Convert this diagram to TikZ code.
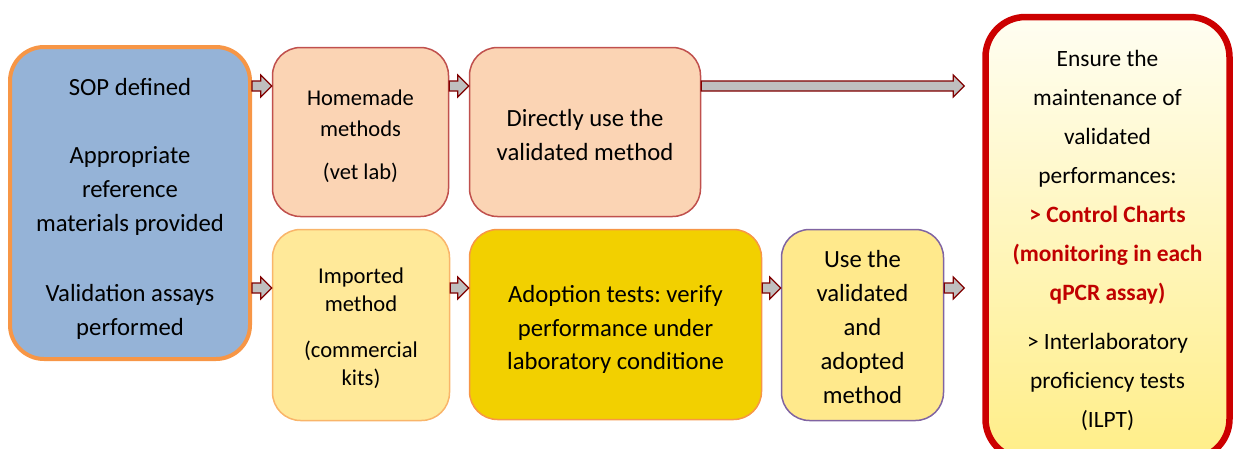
\documentclass[tikz,border=0pt]{standalone}
\usepackage{fontspec}
\setmainfont{Carlito}
\frenchspacing
\usetikzlibrary{calc}
\definecolor{sopfill}{HTML}{95B3D7}
\definecolor{soporange}{HTML}{F79646}
\definecolor{peach}{HTML}{FBD4B4}
\definecolor{peachline}{HTML}{C0504D}
\definecolor{lightyel}{HTML}{FFE999}
\definecolor{lightyelline}{HTML}{F9B56A}
\definecolor{gold}{HTML}{F2D000}
\definecolor{useyel}{HTML}{FFE98C}
\definecolor{purpleline}{HTML}{8064A2}
\definecolor{redline}{HTML}{CC0000}
\definecolor{redtext}{HTML}{C00000}
\definecolor{arrfill}{HTML}{BFBFBF}
\definecolor{arrline}{HTML}{800000}
\definecolor{gradtop}{HTML}{FFFEF2}
\definecolor{gradbot}{HTML}{FFEE88}
\newcommand{\blockarr}[2]{%
  \draw[arrowst] let \p1=(#1), \p2=(#2) in
    (\x1,\y1+5pt) -- (\x2-11pt,\y1+5pt) -- (\x2-11pt,\y1+11pt) -- (\x2,\y1)
    -- (\x2-11pt,\y1-11pt) -- (\x2-11pt,\y1-5pt) -- (\x1,\y1-5pt) -- cycle;}
\begin{document}
\begin{tikzpicture}[x=1pt,y=-1pt,
  box/.style={draw, rounded corners=28pt, inner sep=0pt, anchor=center},
  txt/.style={inner sep=0pt, align=center, anchor=center},
  arrowst/.style={draw=arrline, fill=arrfill, line width=1.2pt, line join=miter}]
\useasboundingbox (0,0) rectangle (1235,448);
\clip (0,0) rectangle (1235,448);
\coordinate (r1) at (0,86);
\coordinate (r2) at (0,288);
% boxes
\node[box, fill=sopfill, draw=soporange, line width=4pt, rounded corners=34pt,
  minimum width=240pt, minimum height=312pt] (sop) at (130,203) {};
\node[txt, font=\fontsize{24.7}{34}\selectfont] (sopt) at ($(sop.center)+(0,6)$)
  {SOP defined\\[34pt]Appropriate\\reference\\materials provided\\[36pt]Validation assays\\performed};
\node[box, fill=peach, draw=peachline, line width=1.5pt,
  minimum width=176pt, minimum height=169pt] (home) at (360.5,132) {};
\node[txt, font=\fontsize{22.5}{31}\selectfont] (homet) at ($(home.center)+(0,4)$)
  {Homemade\\methods\\[12pt](vet lab)};
\node[box, fill=peach, draw=peachline, line width=1.5pt,
  minimum width=231pt, minimum height=169pt] (dir) at (585,132) {};
\node[txt, font=\fontsize{24.7}{34}\selectfont] (dirt) at ($(dir.center)+(0,3.5)$)
  {Directly use the\\validated method};
\node[box, fill=lightyel, draw=lightyelline, line width=1.5pt,
  minimum width=177pt, minimum height=191pt] (imp) at (361,325) {};
\node[txt, font=\fontsize{22.6}{28}\selectfont] (impt) at ($(imp.center)+(0,3)$)
  {Imported\\method\\[18pt](commercial\\kits)};
\node[box, fill=gold, draw=soporange, line width=1.5pt,
  minimum width=292pt, minimum height=190pt] (adopt) at (615.5,324.5) {};
\node[txt, font=\fontsize{24.7}{33.5}\selectfont] (adoptt) at ($(adopt.center)+(0,5)$)
  {Adoption tests: verify\\performance under\\laboratory conditione};
\node[box, fill=useyel, draw=purpleline, line width=1.5pt,
  minimum width=162pt, minimum height=191pt] (use) at (862.5,325) {};
\node[txt, font=\fontsize{24.7}{34}\selectfont] (uset) at ($(use.center)+(0,2.5)$)
  {Use the\\validated\\and\\adopted\\method};
\node[box, top color=gradtop, bottom color=gradbot, draw=redline, line width=6.5pt,
  rounded corners=40pt, minimum width=244pt, minimum height=442pt] (right) at (1107.5,238) {};
\node[txt, font=\fontsize{23.4}{39}\selectfont] (rightt) at ($(right.center)+(0,2)$)
  {Ensure the\\maintenance of\\validated\\performances:\\
   \textcolor{redtext}{\bfseries > Control Charts}\\
   \textcolor{redtext}{\bfseries (monitoring in each}\\
   \textcolor{redtext}{\bfseries qPCR assay)}\\[10pt]
   > Interlaboratory\\proficiency tests\\(ILPT)};
% arrows
\blockarr{sop.east |- r1}{home.west |- r1}
\blockarr{home.east |- r1}{dir.west |- r1}
\blockarr{dir.east |- r1}{$(right.west |- r1)+(-18,0)$}
\blockarr{sop.east |- r2}{imp.west |- r2}
\blockarr{imp.east |- r2}{adopt.west |- r2}
\blockarr{adopt.east |- r2}{use.west |- r2}
\blockarr{use.east |- r2}{$(right.west |- r2)+(-18,0)$}
\end{tikzpicture}
\end{document}
